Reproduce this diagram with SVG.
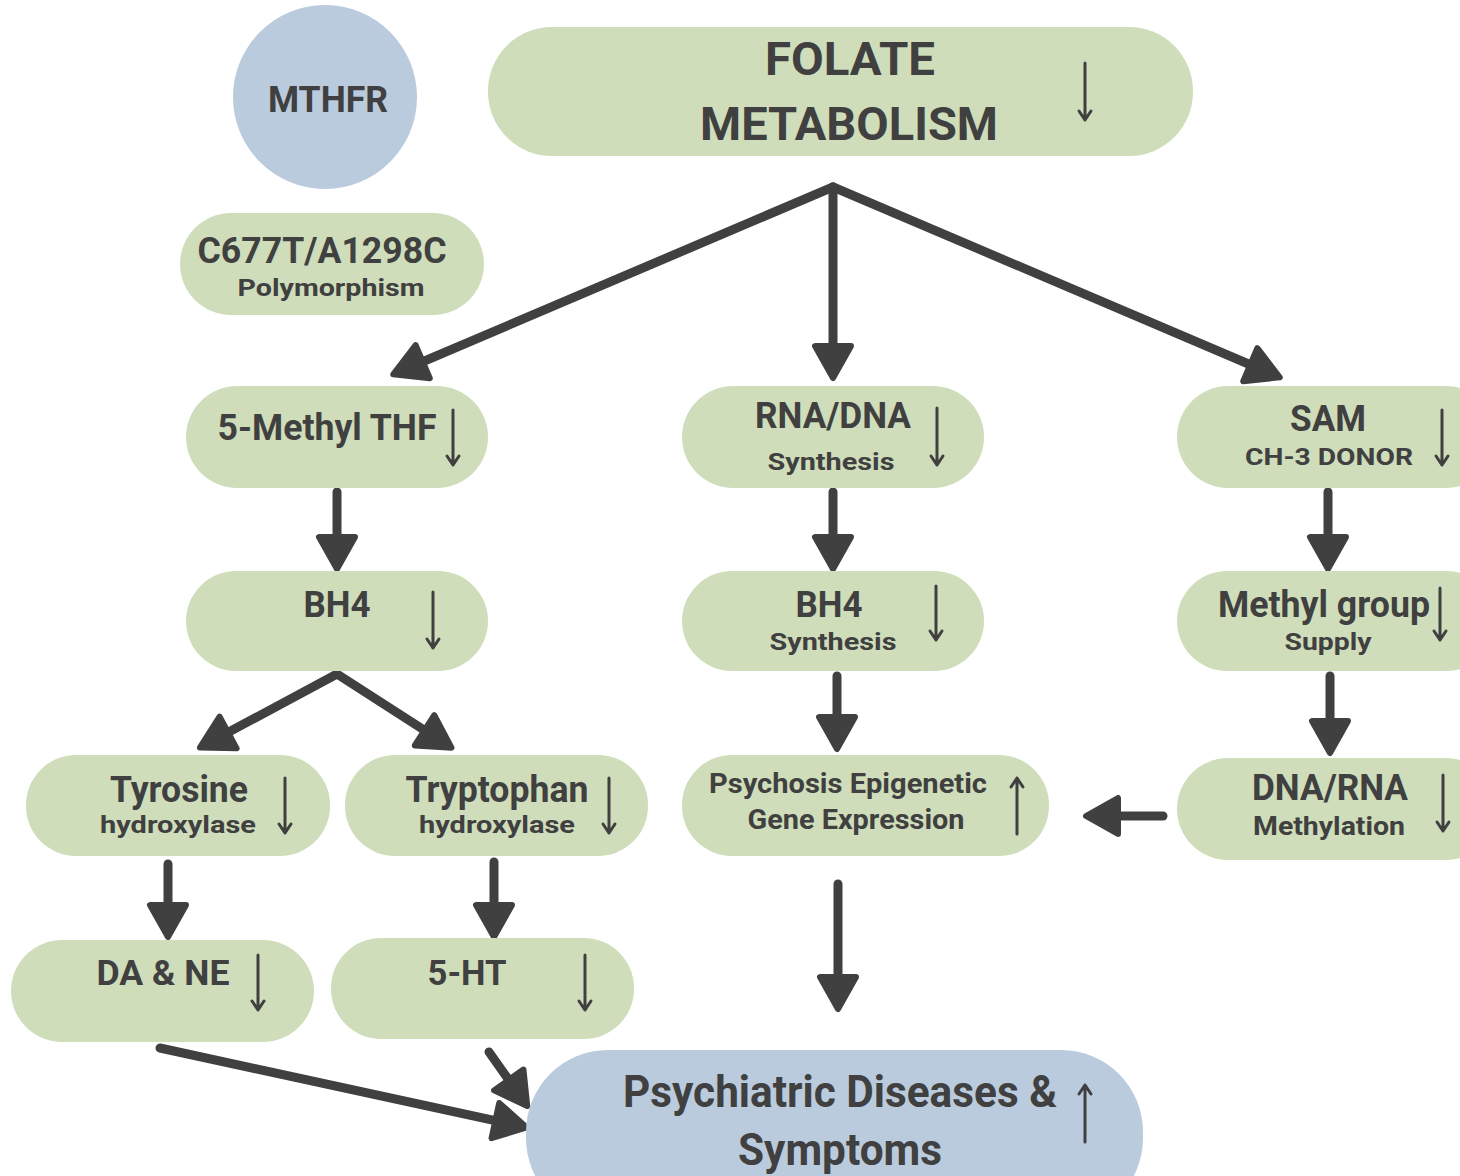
<svg xmlns="http://www.w3.org/2000/svg" width="1460" height="1176" viewBox="0 0 1460 1176">
<style>
.g{fill:#cfddbb}
.b{fill:#bacbdd}
.t{font-family:Roboto,"Liberation Sans",sans-serif;font-weight:bold;fill:#404040;text-anchor:middle}
.c{stroke:#404040;stroke-width:9;stroke-linecap:round;fill:none;marker-end:url(#ah)}
.s{stroke:#404040;stroke-width:3;fill:none;stroke-linecap:round;stroke-linejoin:round}
</style>
<defs>
<marker id="ah" markerUnits="userSpaceOnUse" viewBox="0 -24 44 48" markerWidth="44" markerHeight="48" refX="20" refY="0" orient="auto">
<path d="M4,-18 L36,0 L4,18 Z" fill="#404040" stroke="#404040" stroke-width="6" stroke-linejoin="round"/>
</marker>
</defs>
<rect width="1460" height="1176" fill="#ffffff"/>

<g id="connectors">
<path class="c" d="M833,187 L408,368"/>
<path class="c" d="M833,187 L833,362"/>
<path class="c" d="M833,187 L1265,371"/>
<path class="c" d="M337,492 L337,553"/>
<path class="c" d="M833,492 L833,553"/>
<path class="c" d="M1328,492 L1328,553"/>
<path class="c" d="M337,674 L214,740"/>
<path class="c" d="M337,674 L438,739"/>
<path class="c" d="M837,676 L837,733"/>
<path class="c" d="M1330,676 L1330,737"/>
<path class="c" d="M168,864 L168,921"/>
<path class="c" d="M494,862 L494,921"/>
<path class="c" d="M1163,816 L1102,816"/>
<path class="c" d="M838,884 L838,993"/>
<path class="c" d="M160,1048 L511,1124"/>
<path class="c" d="M489,1052 L518,1093"/>
</g>

<g id="mthfr">
<circle class="b" cx="325" cy="97" r="92"/>
<text class="t" x="328" y="112" font-size="36" textLength="120" lengthAdjust="spacingAndGlyphs">MTHFR</text>
</g>

<g id="polymorphism">
<rect class="g" x="180" y="213" width="304" height="102" rx="51"/>
<text class="t" x="322" y="263" font-size="36" textLength="249" lengthAdjust="spacingAndGlyphs">C677T/A1298C</text>
<text class="t" x="331" y="296" font-size="24" textLength="187" lengthAdjust="spacingAndGlyphs">Polymorphism</text>
</g>

<g id="folate">
<rect class="g" x="488" y="27" width="705" height="129" rx="64"/>
<text class="t" x="850" y="75" font-size="46" textLength="170" lengthAdjust="spacingAndGlyphs">FOLATE</text>
<text class="t" x="849" y="140" font-size="46" textLength="298" lengthAdjust="spacingAndGlyphs">METABOLISM</text>
<path class="s" d="M1085,63 V120 M1079,111 L1085,120 L1091,111"/>
</g>

<g id="methylthf">
<rect class="g" x="186" y="386" width="302" height="102" rx="51"/>
<text class="t" x="327" y="440" font-size="36" textLength="219" lengthAdjust="spacingAndGlyphs">5-Methyl THF</text>
<path class="s" d="M453,410 V465 M447,456 L453,465 L459,456"/>
</g>

<g id="rnadna">
<rect class="g" x="682" y="386" width="302" height="102" rx="51"/>
<text class="t" x="833" y="428" font-size="36" textLength="156" lengthAdjust="spacingAndGlyphs">RNA/DNA</text>
<text class="t" x="831" y="470" font-size="24" textLength="127" lengthAdjust="spacingAndGlyphs">Synthesis</text>
<path class="s" d="M937,408 V465 M931,456 L937,465 L943,456"/>
</g>

<g id="sam">
<rect class="g" x="1177" y="386" width="320" height="102" rx="51"/>
<text class="t" x="1328" y="431" font-size="36" textLength="76" lengthAdjust="spacingAndGlyphs">SAM</text>
<text class="t" x="1329" y="465" font-size="24" textLength="168" lengthAdjust="spacingAndGlyphs">CH-3 DONOR</text>
<path class="s" d="M1442,410 V465 M1436,456 L1442,465 L1448,456"/>
</g>

<g id="bh4a">
<rect class="g" x="186" y="571" width="302" height="100" rx="50"/>
<text class="t" x="337" y="617" font-size="36" textLength="67" lengthAdjust="spacingAndGlyphs">BH4</text>
<path class="s" d="M433,592 V648 M427,639 L433,648 L439,639"/>
</g>

<g id="bh4b">
<rect class="g" x="682" y="571" width="302" height="100" rx="50"/>
<text class="t" x="829" y="617" font-size="36" textLength="67" lengthAdjust="spacingAndGlyphs">BH4</text>
<text class="t" x="833" y="650" font-size="24" textLength="127" lengthAdjust="spacingAndGlyphs">Synthesis</text>
<path class="s" d="M936,586 V640 M930,631 L936,640 L942,631"/>
</g>

<g id="methylgroup">
<rect class="g" x="1177" y="571" width="320" height="100" rx="50"/>
<text class="t" x="1324" y="617" font-size="36" textLength="212" lengthAdjust="spacingAndGlyphs">Methyl group</text>
<text class="t" x="1328" y="650" font-size="24" textLength="87" lengthAdjust="spacingAndGlyphs">Supply</text>
<path class="s" d="M1440,588 V640 M1434,631 L1440,640 L1446,631"/>
</g>

<g id="tyrosine">
<rect class="g" x="26" y="755" width="304" height="101" rx="50"/>
<text class="t" x="179" y="802" font-size="36" textLength="138" lengthAdjust="spacingAndGlyphs">Tyrosine</text>
<text class="t" x="178" y="833" font-size="24" textLength="156" lengthAdjust="spacingAndGlyphs">hydroxylase</text>
<path class="s" d="M285,778 V833 M279,824 L285,833 L291,824"/>
</g>

<g id="tryptophan">
<rect class="g" x="345" y="755" width="303" height="101" rx="50"/>
<text class="t" x="497" y="802" font-size="36" textLength="183" lengthAdjust="spacingAndGlyphs">Tryptophan</text>
<text class="t" x="497" y="833" font-size="24" textLength="156" lengthAdjust="spacingAndGlyphs">hydroxylase</text>
<path class="s" d="M609,778 V833 M603,824 L609,833 L615,824"/>
</g>

<g id="psychosis">
<rect class="g" x="682" y="755" width="367" height="101" rx="50"/>
<text class="t" x="848" y="793" font-size="28" textLength="278" lengthAdjust="spacingAndGlyphs">Psychosis Epigenetic</text>
<text class="t" x="856" y="829" font-size="28" textLength="217" lengthAdjust="spacingAndGlyphs">Gene Expression</text>
<path class="s" d="M1017,834 V778 M1011,787 L1017,778 L1023,787"/>
</g>

<g id="dnarna">
<rect class="g" x="1177" y="758" width="320" height="102" rx="51"/>
<text class="t" x="1330" y="800" font-size="36" textLength="156" lengthAdjust="spacingAndGlyphs">DNA/RNA</text>
<text class="t" x="1329" y="835" font-size="26" textLength="152" lengthAdjust="spacingAndGlyphs">Methylation</text>
<path class="s" d="M1443,775 V831 M1437,822 L1443,831 L1449,822"/>
</g>

<g id="dane">
<rect class="g" x="11" y="940" width="303" height="102" rx="51"/>
<text class="t" x="163" y="985" font-size="35" textLength="133" lengthAdjust="spacingAndGlyphs">DA &amp; NE</text>
<path class="s" d="M258,955 V1010 M252,1001 L258,1010 L264,1001"/>
</g>

<g id="ht5">
<rect class="g" x="331" y="938" width="303" height="101" rx="50"/>
<text class="t" x="467" y="985" font-size="35" textLength="79" lengthAdjust="spacingAndGlyphs">5-HT</text>
<path class="s" d="M585,955 V1010 M579,1001 L585,1010 L591,1001"/>
</g>

<g id="psychiatric">
<rect class="b" x="526" y="1050" width="617" height="170" rx="82"/>
<text class="t" x="840" y="1107" font-size="44" textLength="434" lengthAdjust="spacingAndGlyphs">Psychiatric Diseases &amp;</text>
<text class="t" x="840" y="1165" font-size="44" textLength="204" lengthAdjust="spacingAndGlyphs">Symptoms</text>
<path class="s" d="M1085,1142 V1085 M1079,1094 L1085,1085 L1091,1094"/>
</g>
</svg>
